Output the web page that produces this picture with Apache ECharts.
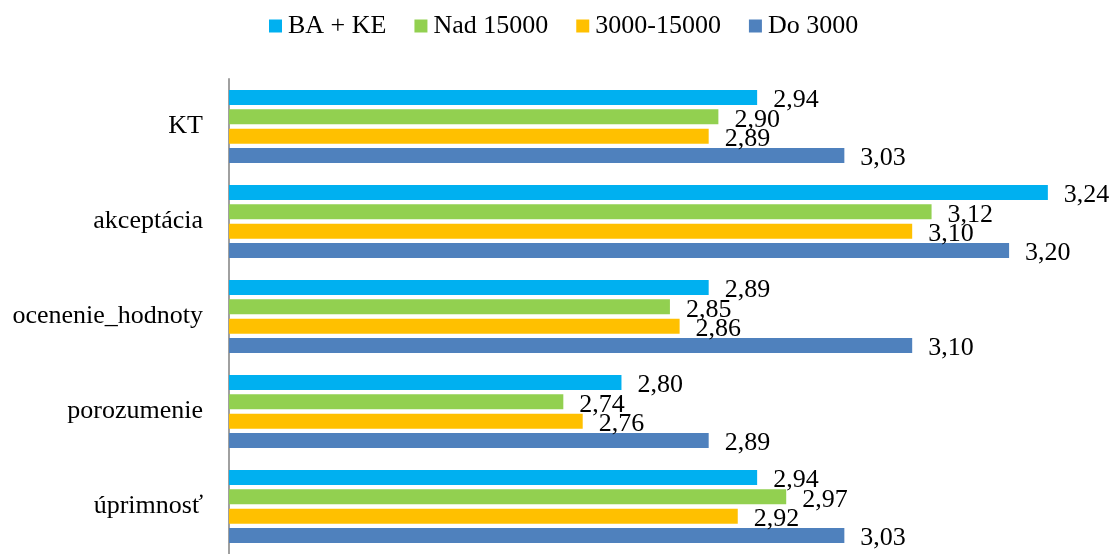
<!DOCTYPE html>
<html>
<head>
<meta charset="utf-8">
<script src="https://cdn.jsdelivr.net/npm/echarts@6/dist/echarts.min.js"></script>
<style>
  html, body { margin: 0; padding: 0; background: #fff; }
  #chart { width: 1113px; height: 554px; }
</style>
</head>
<body>
<div id="chart"></div>
<script>
const categories = ['KT', 'akceptácia', 'ocenenie_hodnoty', 'porozumenie', 'úprimnosť']
const seriesNames = ['BA + KE', 'Nad 15000', '3000-15000', 'Do 3000']
const baKe = [2.94, 3.24, 2.89, 2.80, 2.94]
const nad15000 = [2.90, 3.12, 2.85, 2.74, 2.97]
const od3000do15000 = [2.89, 3.10, 2.86, 2.76, 2.92]
const do3000 = [3.03, 3.20, 3.10, 2.89, 3.03]

const colors = ['#00B0F0', '#92D050', '#FFC000', '#4F81BD']
const serif = "'Times New Roman', 'Liberation Serif', serif"

const chart = echarts.init(document.getElementById('chart'))

const makeSeries = (name, data, i) => ({
    name,
    type: 'bar',
    data,
    barWidth: 15,
    barGap: '29%',
    itemStyle: { color: colors[i] },
    label: {
        show: true,
        position: 'right',
        distance: 16,
        offset: [0, 3],
        color: '#000',
        fontFamily: serif,
        fontSize: 26,
        formatter: p => p.value.toFixed(2).replace('.', ',')
    },
    animation: false
})

chart.setOption({
    legend: {
        left: 269,
        top: 13,
        padding: 0,
        itemWidth: 13,
        itemHeight: 13,
        itemGap: 28,
        icon: 'rect',
        textStyle: { color: '#000', fontFamily: serif, fontSize: 26, lineHeight: 26, padding: [0, 0, 0, 1] },
        data: seriesNames
    },
    grid: {
        left: 229,
        top: 79,
        width: 877,
        height: 483.5
    },
    xAxis: {
        type: 'value',
        min: 2.395,
        max: 3.3,
        show: false
    },
    yAxis: {
        type: 'category',
        inverse: true,
        data: categories,
        axisLine: { show: true, lineStyle: { color: '#a0a0a0', width: 2 } },
        axisTick: { show: false },
        axisLabel: { color: '#000', fontFamily: serif, fontSize: 26, margin: 26 }
    },
    series: [
        makeSeries(seriesNames[0], baKe, 0),
        makeSeries(seriesNames[1], nad15000, 1),
        makeSeries(seriesNames[2], od3000do15000, 2),
        makeSeries(seriesNames[3], do3000, 3)
    ]
})
</script>
</body>
</html>
